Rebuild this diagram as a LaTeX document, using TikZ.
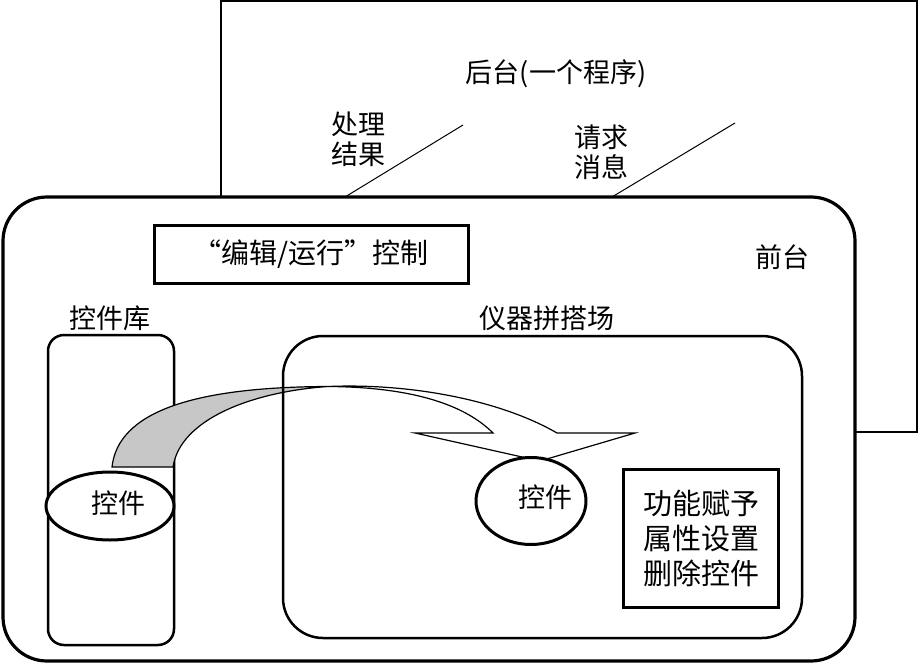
\documentclass[tikz,border=0pt]{standalone}
\usepackage{fontspec}
\usetikzlibrary{shapes.geometric}
\newfontfamily\cjk{Noto Sans CJK SC}
\begin{document}
\begin{tikzpicture}[x=1pt,y=-1pt,
  txt/.style={font=\cjk\fontsize{27}{30}\selectfont, inner sep=0pt, align=center},
  box/.style={draw, inner sep=0pt, line width=#1},
  box/.default=2.5pt,
  ell/.style={draw, ellipse, fill=white, inner sep=0pt, line width=3pt},
  thin/.style={line width=1pt}]
\useasboundingbox (0,0) rectangle (921,666);
% back
\node[box=1.5pt, minimum width=696pt, minimum height=431pt] (back) at (569,216.5) {};
\node[txt] (backlbl) at (556,74) {后台(一个程序)};
\coordinate (r1a) at (345,197); \coordinate (r1b) at (463,125);
\coordinate (r2a) at (612,197); \coordinate (r2b) at (735,123);
\draw[thin] (r1a) -- (r1b);
\draw[thin] (r2a) -- (r2b);
\node[txt] (res) at (358,139) {处理\\结果};
\node[txt] (req) at (601,152) {请求\\消息};
% front
\node[box=3.2pt, fill=white, rounded corners=44pt, minimum width=852pt, minimum height=464pt] (front) at (429,429) {};
\node[txt] (frontlbl) at (782,257) {前台};
\node[box=3pt, minimum width=314pt, minimum height=58pt, txt, font=\cjk\fontsize{28}{30}\selectfont] (edit) at (311,254) {“编辑/运行”控制};
% library
\node[txt] (liblbl) at (110,318) {控件库};
\node[box=2.5pt, rounded corners=16pt, minimum width=126pt, minimum height=310pt] (lib) at (111,490) {};
% arrow
\coordinate (tw) at (328,386.5);
\coordinate (g1) at (112,467); \coordinate (g2) at (173,467);
\draw[line width=1.2pt, fill=black!22] (g1) -- (g2) .. controls (180,420) and (250,392) .. (tw)
   .. controls (190,387) and (118,413) .. (g1) -- cycle;
\coordinate (o1) at (557,433); \coordinate (h1) at (635,433); \coordinate (tip) at (540,461);
\coordinate (h2) at (415,433); \coordinate (i1) at (493,433);
\draw[line width=1.2pt, line join=miter] (tw) .. controls (410,383) and (500,400) .. (o1) -- (h1) -- (tip) -- (h2) -- (i1)
   .. controls (460,400) and (400,387) .. (tw);
% instrument area
\node[txt] (instlbl) at (547,318) {仪器拼搭场};
\node[box=2.5pt, rounded corners=40pt, minimum width=519pt, minimum height=302pt] (inst) at (542.5,487) {};
% ellipses
\node[ell, minimum width=128pt, minimum height=68pt] (libctl) at (110,506) {};
\node[txt] (libctltxt) at (118,503) {控件};
\node[ell, minimum width=110pt, minimum height=87pt] (ctl) at (531,501) {};
\node[txt] (ctltxt) at (545,497) {控件};
% function box
\node[box=3pt, minimum width=155pt, minimum height=138pt, txt, font=\cjk\fontsize{29}{35}\selectfont] (func) at (701,538) {功能赋予\\属性设置\\删除控件};
\end{tikzpicture}
\end{document}
